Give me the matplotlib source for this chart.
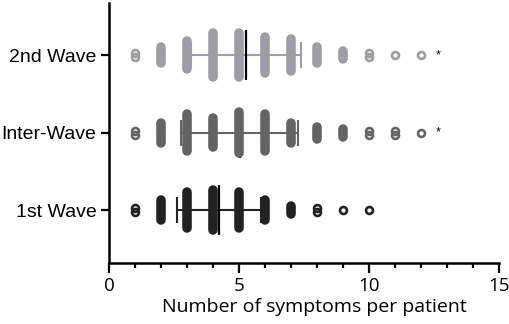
import numpy as np
import matplotlib
matplotlib.use("Agg")
import matplotlib.pyplot as plt

# number of symptoms (x) and stacked dot counts per wave, bottom to top
waves = ["1st Wave", "Inter-Wave", "2nd Wave"]
symptoms = [1, 2, 3, 4, 5, 6, 7, 8, 9, 10, 11, 12]
counts_1st = [2, 6, 10, 11, 10, 6, 3, 2, 1, 1, 0, 0]
counts_inter = [2, 6, 10, 8, 11, 10, 6, 4, 3, 2, 2, 1]
counts_2nd = [2, 5, 8, 12, 12, 10, 9, 5, 3, 2, 1, 1]

means = [4.23, 5.02, 5.26]
sds = [1.63, 2.25, 2.11]
significant = [False, True, True]

colors = ["#222222", "#646464", "#9d9da4"]

fig = plt.figure(figsize=(5.1, 3.24), dpi=100)
ax = fig.add_axes([109 / 510, 1 - 263 / 324, 390 / 510, 260 / 324])

step = 0.052
for i, counts in enumerate([counts_1st, counts_inter, counts_2nd]):
    c = colors[i]
    # whiskers (mean +/- SD) under the dots
    ax.errorbar(means[i], i, xerr=sds[i], fmt="none", ecolor=c, elinewidth=1.5,
                capsize=9.3, capthick=1.5, zorder=1)
    ax.plot(means[i], i, "|", ms=36, mew=1.6, color="black", zorder=2)
    for x, n in zip(symptoms, counts):
        if n == 0:
            continue
        ys = i + (np.arange(n) - (n - 1) / 2) * step
        if n <= 2:
            ax.plot(np.full(n, x), ys, "o", ms=5.0, mfc="none", mec=c,
                    mew=1.9, zorder=3, ls="none")
        else:
            # many overlapping dots merge into one rounded bar
            ax.plot([x, x], [ys[0], ys[-1]], color=c, lw=6.9,
                    solid_capstyle="round", zorder=3)

    if significant[i]:
        ax.text(12.65, i, "*", fontsize=9, ha="center", va="center",
                family="Liberation Sans")

ax.set_xlim(0, 15)
ax.set_ylim(-0.68, 2.67)
ax.set_yticks(range(3))
ax.set_yticklabels(waves, family="Liberation Sans", fontsize=14)
ax.set_xticks([0, 5, 10, 15])
ax.set_xticks(range(16), minor=True)
ax.set_xticklabels(["0", "5", "10", "15"], family="Open Sans", fontsize=13.5)
ax.set_xlabel("Number of symptoms per patient", family="Open Sans",
              fontsize=14, labelpad=2)
ax.xaxis.label.set_x(0.526)

for s in ["top", "right"]:
    ax.spines[s].set_visible(False)
for s in ["left", "bottom"]:
    ax.spines[s].set_linewidth(1.8)
ax.tick_params(axis="x", which="major", length=7.2, width=1.6, pad=3)
ax.tick_params(axis="x", which="minor", length=3.6, width=1.6)
ax.tick_params(axis="y", length=6, width=1.6, pad=3)

fig.savefig("out.png", dpi=100)
